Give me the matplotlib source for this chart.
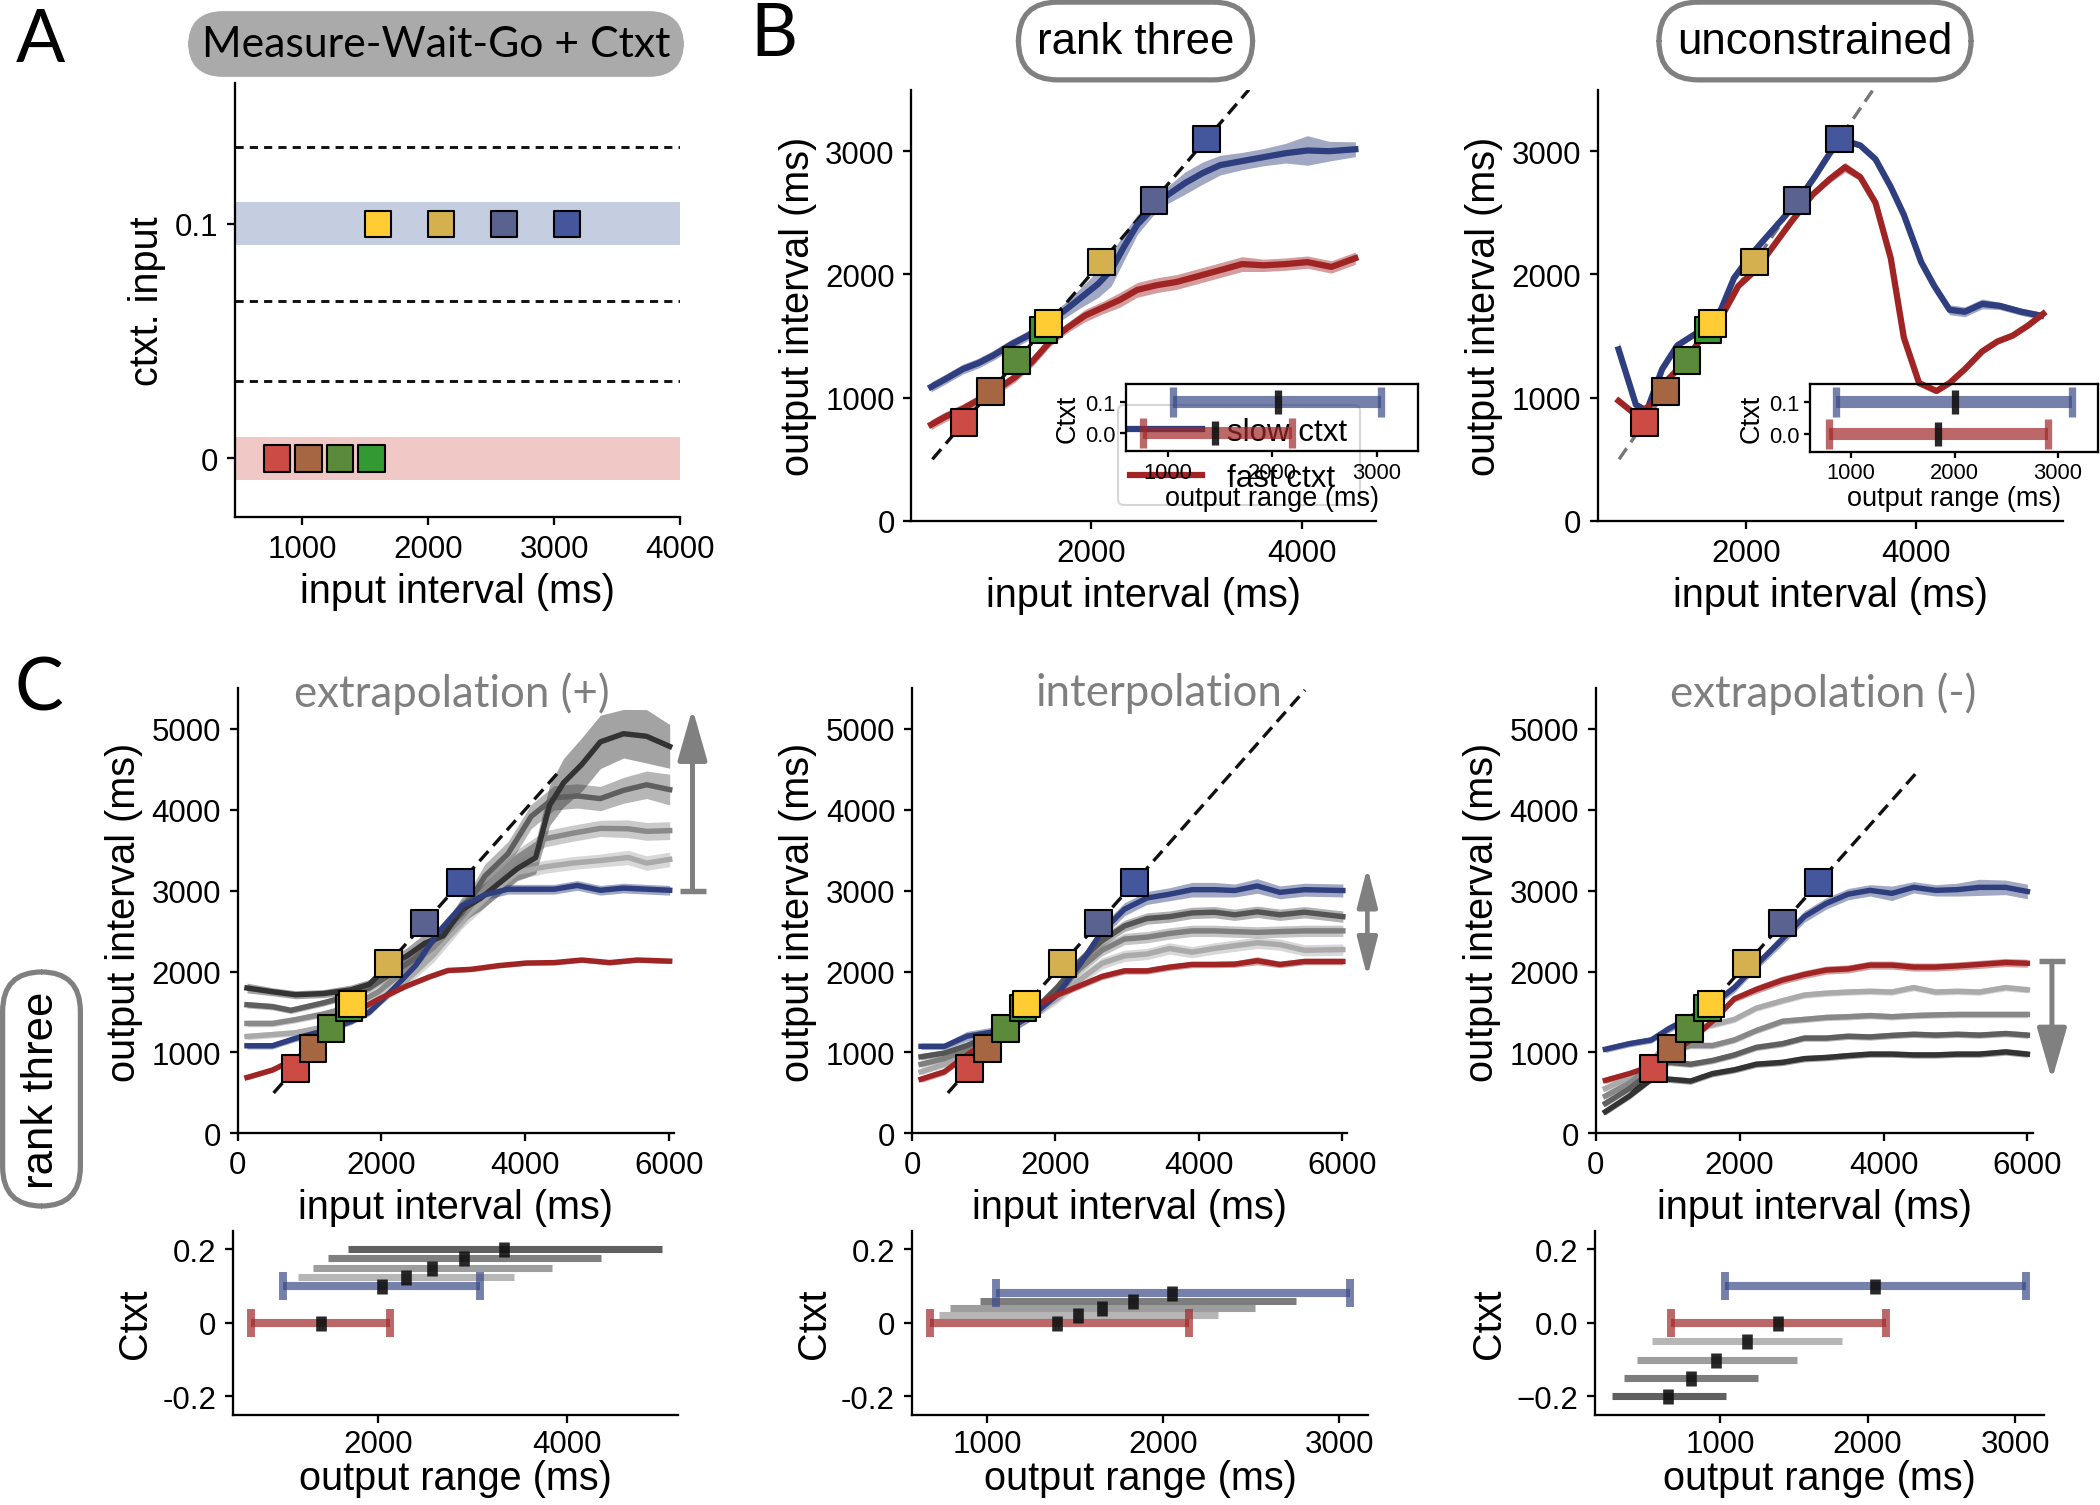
import matplotlib
matplotlib.use('Agg')
import matplotlib.pyplot as plt
import numpy as np

# ---------------------------------------------------------------- data
TARGETS = [800, 1050, 1300, 1550, 1600, 2100, 2600, 3100]
TARGET_COLORS = ['#CC4B45', '#A66642', '#5A8A3A', '#339933',
                 '#FFCC33', '#D4B04F', '#5A6390', '#44569C']
A_FAST_T = [800, 1050, 1300, 1550]
A_SLOW_T = [1600, 2100, 2600, 3100]
A_CTXT = [0.0, 0.1]
A_DASHED_CTXT = [0.133, 0.067, 0.033]

# Panel B, rank three
B1_X_SLOW = [488, 624, 789, 934, 1079, 1244, 1409, 1574, 1740, 1905, 2070, 2194, 2318,
             2442, 2587, 2731, 2897, 3062, 3227, 3434, 3640, 3847, 4054, 4260, 4508]
B1_Y_SLOW = [1087, 1151, 1232, 1280, 1344, 1431, 1505, 1601, 1698, 1810, 1923, 2035, 2228,
             2405, 2534, 2646, 2743, 2823, 2887, 2920, 2952, 2984, 3006, 3000, 3016]
B1_S_SLOW = [40, 40, 40, 40, 40, 40, 40, 50, 60, 80, 110, 130, 110,
             80, 60, 70, 90, 90, 80, 70, 70, 80, 120, 80, 60]
B1_X_FAST = [488, 624, 789, 955, 1120, 1285, 1450, 1616, 1781, 1946, 2112, 2277,
             2442, 2628, 2814, 3021, 3227, 3434, 3640, 3847, 4054, 4281, 4508]
B1_Y_FAST = [781, 846, 910, 990, 1071, 1167, 1296, 1457, 1569, 1666, 1730, 1794,
             1875, 1913, 1939, 1987, 2035, 2084, 2074, 2084, 2100, 2061, 2132]
B1_S_FAST = [40, 40, 40, 40, 40, 40, 40, 40, 40, 50, 50, 60,
             60, 60, 60, 60, 60, 60, 50, 50, 50, 50, 50]

# Panel B, unconstrained
B2_X_SLOW = [494, 699, 828, 1008, 1188, 1445, 1702, 1856, 2062, 2267, 2473, 2627, 2807, 2987,
             3116, 3347, 3527, 3707, 3861, 4067, 4221, 4401, 4581, 4787, 4992, 5249, 5481]
B2_Y_SLOW = [1392, 942, 894, 1231, 1424, 1537, 1713, 1970, 2163, 2324, 2485, 2613, 2790, 2983,
             3095, 3047, 2935, 2710, 2485, 2099, 1906, 1713, 1697, 1761, 1745, 1697, 1665]
B2_S_SLOW = [60, 30, 20, 20, 20, 20, 20, 20, 20, 20, 20, 20, 20, 20,
             20, 20, 20, 20, 20, 20, 30, 40, 40, 40, 30, 30, 30]
B2_X_FAST = [494, 699, 879, 1059, 1239, 1445, 1702, 1907, 2113, 2319, 2524, 2781, 2987, 3167,
             3347, 3527, 3707, 3861, 4041, 4247, 4401, 4581, 4787, 4967, 5147, 5327, 5507]
B2_Y_FAST = [974, 861, 942, 1135, 1263, 1456, 1649, 1906, 2035, 2228, 2420, 2645, 2774, 2870,
             2790, 2581, 2131, 1488, 1119, 1054, 1119, 1231, 1376, 1456, 1504, 1585, 1681]
B2_S_FAST = [20, 20, 20, 20, 20, 20, 20, 20, 20, 20, 20, 20, 30, 40,
             30, 20, 20, 20, 20, 20, 20, 20, 20, 20, 20, 20, 20]

# B insets: output range per context  [lo, median, hi]
B1_IN_SLOW = [1054, 2054, 3042]
B1_IN_FAST = [761, 1452, 2188]
B2_IN_SLOW = [853, 2000, 3134]
B2_IN_FAST = [781, 1843, 2910]

# Panel C1, extrapolation (+)
C1_X_SLOW = [129, 482, 804, 1190, 1576, 1833, 2154, 2476, 2797, 3119, 3441, 3762, 4084, 4405,
             4727, 5048, 5370, 5691, 6013]
C1_Y_SLOW = [1083, 1083, 1175, 1267, 1382, 1498, 1774, 2074, 2488, 2811, 2949, 3018, 3018, 3018,
             3065, 3005, 3032, 3018, 3005]
C1_S_SLOW = [40, 40, 40, 40, 40, 40, 50, 60, 70, 70, 60, 60, 60, 60, 60, 60, 60, 60, 60]
C1_X_FAST = [129, 482, 804, 1190, 1576, 1961, 2347, 2669, 2926, 3248, 3633, 4019, 4405, 4791,
             5177, 5563, 6013]
C1_Y_FAST = [691, 783, 922, 1152, 1475, 1659, 1820, 1935, 2014, 2028, 2074, 2106, 2111, 2143,
             2111, 2143, 2129]
C1_S_FAST = [30, 30, 30, 30, 30, 30, 30, 30, 30, 30, 30, 30, 30, 30, 30, 30, 30]
C1_X_G4 = [129, 482, 804, 1190, 1576, 1833, 2090, 2347, 2604, 2862, 3119, 3376, 3633, 3891,
           4148, 4341, 4534, 4791, 5048, 5370, 5691, 6013]
C1_Y_G4 = [1797, 1751, 1714, 1728, 1774, 1843, 2074, 2189, 2350, 2442, 2765, 2903, 3088, 3272,
           3410, 4055, 4332, 4562, 4839, 4940, 4908, 4783]
C1_S_G4 = [60, 50, 50, 50, 60, 60, 80, 100, 120, 120, 150, 150, 150, 150,
           200, 250, 300, 330, 330, 300, 330, 270]
C1_X_G3 = [129, 482, 740, 1190, 1576, 1833, 2154, 2476, 2797, 3119, 3441, 3762, 4084, 4405,
           4727, 5048, 5370, 5691, 6013]
C1_Y_G3 = [1590, 1567, 1521, 1613, 1705, 1797, 1982, 2166, 2442, 2719, 3180, 3456, 3917, 4147,
           4171, 4138, 4240, 4309, 4249]
C1_S_G3 = [40, 40, 40, 40, 40, 50, 60, 80, 100, 120, 150, 150, 150, 150, 150, 150, 160, 170, 190]
C1_X_G12 = [129, 482, 804, 1190, 1576, 1961, 2347, 2733, 3119, 3505, 3891, 4277, 4662, 5048,
            5434, 5691, 6013]
C1_Y_G2 = [1359, 1359, 1406, 1475, 1567, 1751, 2028, 2304, 2673, 3088, 3410, 3641, 3710, 3770,
           3765, 3733, 3742]
C1_S_G2 = [40, 40, 40, 40, 40, 60, 80, 100, 120, 120, 100, 100, 100, 100, 110, 110, 110]
C1_Y_G1 = [1198, 1221, 1244, 1313, 1429, 1636, 1889, 2212, 2627, 2949, 3226, 3295, 3341, 3373,
           3410, 3341, 3387]
C1_S_G1 = [40, 40, 40, 40, 40, 60, 70, 90, 100, 100, 90, 80, 80, 80, 90, 90, 90]

# Panel C2, interpolation
C2_X = [126, 452, 766, 1080, 1394, 1707, 2021, 2335, 2649, 2963, 3277, 3591, 3905, 4218,
        4500, 4815, 5130, 5474, 6008]
C2_Y_SLOW = [1076, 1076, 1201, 1247, 1316, 1478, 1709, 2079, 2494, 2771, 2910, 2956, 3012, 3012,
             3002, 3058, 2979, 3012, 3002]
C2_S_SLOW = [40, 40, 60, 60, 60, 60, 60, 70, 80, 80, 80, 80, 90, 90, 80, 90, 80, 80, 80]
C2_Y_FAST = [670, 762, 970, 1155, 1339, 1570, 1709, 1824, 1940, 2009, 2009, 2055, 2088, 2088,
             2092, 2134, 2088, 2125, 2125]
C2_S_FAST = [40, 40, 40, 40, 40, 40, 40, 40, 40, 40, 40, 40, 40, 40, 40, 50, 40, 40, 40]
C2_Y_G3 = [947, 993, 1085, 1201, 1339, 1524, 1801, 2125, 2379, 2564, 2656, 2679, 2725, 2734,
           2702, 2739, 2702, 2734, 2679]
C2_Y_G2 = [855, 924, 1039, 1178, 1316, 1501, 1732, 2032, 2263, 2402, 2425, 2471, 2503, 2503,
           2494, 2485, 2494, 2503, 2503]
C2_Y_G1 = [762, 855, 993, 1132, 1293, 1478, 1663, 1894, 2102, 2194, 2217, 2286, 2240, 2286,
           2319, 2356, 2333, 2263, 2272]
C2_S_G = [40, 40, 50, 50, 50, 60, 60, 70, 70, 70, 70, 70, 70, 70, 70, 70, 70, 70, 70]

# Panel C3, extrapolation (-)
C3_X = [134, 468, 772, 1015, 1319, 1623, 1927, 2231, 2596, 2900, 3204, 3508, 3812, 4116,
        4419, 4723, 5027, 5331, 5696, 5999]
C3_Y_SLOW = [1040, 1109, 1155, 1294, 1433, 1594, 1802, 2080, 2403, 2680, 2842, 2957, 3004, 2967,
             3041, 3004, 3013, 3041, 3041, 2990]
C3_S_SLOW = [40, 40, 40, 50, 50, 50, 60, 60, 70, 70, 70, 70, 70, 90, 70, 70, 80, 100, 90, 90]
C3_Y_FAST = [656, 739, 832, 947, 1155, 1386, 1664, 1779, 1895, 1964, 2019, 2033, 2080, 2080,
             2056, 2056, 2070, 2089, 2112, 2103]
C3_S_FAST = [40, 40, 40, 40, 40, 40, 40, 50, 50, 50, 50, 50, 50, 50, 50, 50, 50, 50, 50, 50]
C3_Y_G1 = [555, 693, 878, 1155, 1294, 1340, 1409, 1548, 1640, 1710, 1733, 1747, 1756, 1747,
           1802, 1747, 1756, 1747, 1802, 1775]
C3_Y_G2 = [462, 624, 832, 1017, 1086, 1086, 1155, 1271, 1386, 1409, 1433, 1442, 1456, 1442,
           1456, 1465, 1470, 1470, 1470, 1470]
C3_Y_G3 = [370, 555, 762, 878, 855, 901, 970, 1063, 1109, 1178, 1178, 1201, 1192, 1211,
           1225, 1215, 1225, 1215, 1234, 1215]
C3_Y_G4 = [268, 462, 670, 670, 647, 739, 786, 855, 878, 924, 938, 961, 980, 980,
           970, 970, 980, 980, 1007, 980]
C3_S_G = [40, 40, 40, 40, 40, 40, 40, 40, 40, 40, 40, 40, 40, 40, 40, 40, 40, 40, 40, 40]

# Bottom row: output range per context (lo, median, hi)
D1_CTXT = [0.0, 0.1, 0.125, 0.15, 0.175, 0.2]
D1_LO = [652, 985, 1142, 1304, 1466, 1676]
D1_MED = [1387, 2039, 2289, 2574, 2907, 3338]
D1_HI = [2123, 3078, 3436, 3848, 4363, 5010]
D2_CTXT = [0.0, 0.08, 0.02, 0.04, 0.06]
D2_LO = [674, 1050, 730, 790, 960]
D2_MED = [1396, 2049, 1518, 1655, 1831]
D2_HI = [2146, 3059, 2310, 2520, 2755]
D3_CTXT = [0.0, 0.1, -0.05, -0.1, -0.15, -0.2]
D3_LO = [667, 1035, 540, 437, 351, 268]
D3_MED = [1395, 2053, 1183, 976, 802, 652]
D3_HI = [2121, 3071, 1826, 1522, 1260, 1041]

D1_YTICKLABELS = ['-0.2', '0', '0.2']
D2_YTICKLABELS = ['-0.2', '0', '0.2']
D3_YTICKLABELS = ['\u22120.2', '0.0', '0.2']

# ---------------------------------------------------------------- style
plt.rcParams['font.family'] = ['Liberation Sans', 'DejaVu Sans']
plt.rcParams['axes.linewidth'] = 1.1
plt.rcParams['xtick.major.width'] = 1.1
plt.rcParams['ytick.major.width'] = 1.1
plt.rcParams['xtick.major.size'] = 4
plt.rcParams['ytick.major.size'] = 4
plt.rcParams['xtick.labelsize'] = 15
plt.rcParams['ytick.labelsize'] = 15
plt.rcParams['axes.labelsize'] = 19
plt.rcParams['xtick.major.pad'] = 4
plt.rcParams['ytick.major.pad'] = 4

SLOW = '#2E3E7E'
FAST = '#A02424'
SLOW_BAR = '#3B4A88'
FAST_BAR = '#A02828'
ARROW_GREY = '#808080'
TITLE_FONT = ['Lato', 'DejaVu Sans']

W, H = 2100, 1506
fig = plt.figure(figsize=(14, 10.04), dpi=150)


def rect(l, t, r, b):
    return [l / W, 1 - b / H, (r - l) / W, (b - t) / H]


def fx(x):
    return x / W


def fy(y):
    return 1 - y / H


def despine(ax):
    ax.spines['top'].set_visible(False)
    ax.spines['right'].set_visible(False)


def curve(ax, x, y, s, color, lw, label=None, alpha=0.45):
    x = np.asarray(x, float)
    y = np.asarray(y, float)
    s = np.asarray(s, float)
    ax.fill_between(x, y - s, y + s, color=color, alpha=alpha, lw=0)
    ax.plot(x, y, color=color, lw=lw, label=label, solid_joinstyle='round')


def squares(ax, xs, ys, colors, zorder=5):
    ax.scatter(xs, ys, marker='s', s=12.8 ** 2, c=colors, edgecolors='k',
               linewidths=1.0, zorder=zorder)


def range_bar(ax, y, lo, med, hi, color, lw, caps, capsize, capthick,
              med_ms, med_mew, alpha=0.7):
    c = (lo + hi) / 2.0
    if caps:
        ax.errorbar(c, y, xerr=(hi - lo) / 2.0, fmt='none', ecolor=color,
                    elinewidth=lw, capsize=capsize, capthick=capthick, alpha=alpha)
    else:
        ax.plot([lo, hi], [y, y], color=color, lw=lw, alpha=alpha,
                solid_capstyle='butt')
    ax.plot([med], [y], marker='|', ms=med_ms, mew=med_mew, color='#111111',
            alpha=0.9, ls='none', zorder=6)


# ---------------------------------------------------------------- panel A
axA = fig.add_axes(rect(234.5, 84.3, 680.3, 517.9))
despine(axA)
axA.axhspan(0.1 - 0.0092, 0.1 + 0.0092, color='#C5CDE0', lw=0, zorder=0)
axA.axhspan(-0.0092, 0.0092, color='#F0C8C6', lw=0, zorder=0)
for yv in A_DASHED_CTXT:
    axA.axhline(yv, color='#111111', lw=1.4, dashes=(2.8, 2.1), zorder=1)
squares(axA, A_FAST_T, [A_CTXT[0]] * len(A_FAST_T), TARGET_COLORS[:4])
squares(axA, A_SLOW_T, [A_CTXT[1]] * len(A_SLOW_T), TARGET_COLORS[4:])
axA.set_xlim(462, 4000)
axA.set_ylim(-0.025, 0.16)
axA.set_xticks([1000, 2000, 3000, 4000])
axA.set_yticks([0, 0.1])
axA.set_yticklabels(['0', '0.1'])
axA.set_xlabel('input interval (ms)')
axA.set_ylabel('ctxt. input')

# ---------------------------------------------------------------- panel B
def panel_b(rect_main, xs, ys, ss, xf, yf, sf, xlim, dash_color, inset_rect,
            in_slow, in_fast, legend):
    ax = fig.add_axes(rect_main)
    despine(ax)
    ax.plot([500, 3500], [500, 3500], color=dash_color, lw=1.6, dashes=(4, 2.2), zorder=2)
    curve(ax, xs, ys, ss, SLOW, 3.0, label='slow ctxt')
    curve(ax, xf, yf, sf, FAST, 3.0, label='fast ctxt')
    squares(ax, TARGETS, TARGETS, TARGET_COLORS)
    ax.set_xlim(*xlim)
    ax.set_ylim(0, 3500)
    ax.set_xticks([2000, 4000])
    ax.set_yticks([0, 1000, 2000, 3000])
    ax.set_xlabel('input interval (ms)')
    ax.set_ylabel('output interval (ms)')
    if legend:
        ax.legend(loc='lower right', fontsize=15, handlelength=2.3, borderaxespad=0.5)
    ins = fig.add_axes(inset_rect)
    ins.set_zorder(3)
    ins.set_facecolor('none')
    range_bar(ins, 0.1, in_slow[0], in_slow[1], in_slow[2], SLOW_BAR, 5.8, True, 7.2, 3.5, 11.5, 3.5)
    range_bar(ins, 0.0, in_fast[0], in_fast[1], in_fast[2], FAST_BAR, 5.8, True, 7.2, 3.5, 11.5, 3.5)
    ins.set_xlim(600, 3390)
    ins.set_ylim(-0.058, 0.16)
    ins.set_xticks([1000, 2000, 3000])
    ins.set_yticks([0.0, 0.1])
    ins.set_yticklabels(['0.0', '0.1'])
    ins.tick_params(labelsize=10.5, length=3, pad=2)
    ins.set_xlabel('output range (ms)', fontsize=13, labelpad=1)
    ins.set_ylabel('Ctxt', fontsize=13, labelpad=2)
    for sp in ins.spines.values():
        sp.set_linewidth(1.1)
    return ax


panel_b(rect(911.3, 90.6, 1375.6, 521.9), B1_X_SLOW, B1_Y_SLOW, B1_S_SLOW,
        B1_X_FAST, B1_Y_FAST, B1_S_FAST, (300, 4700), '#111111',
        rect(1125.8, 384.7, 1417.9, 452.3), B1_IN_SLOW, B1_IN_FAST, True)
panel_b(rect(1597.9, 90.6, 2063, 521.9), B2_X_SLOW, B2_Y_SLOW, B2_S_SLOW,
        B2_X_FAST, B2_Y_FAST, B2_S_FAST, (250, 5740), '#777777',
        rect(1810, 384.7, 2098, 453), B2_IN_SLOW, B2_IN_FAST, False)

# ---------------------------------------------------------------- panel C
def panel_c(rect_main, title, title_x):
    ax = fig.add_axes(rect_main)
    despine(ax)
    ax.set_xlim(0, 6070)
    ax.set_ylim(0, 5500)
    ax.set_xticks([0, 2000, 4000, 6000])
    ax.set_yticks([0, 1000, 2000, 3000, 4000, 5000])
    ax.set_xlabel('input interval (ms)')
    ax.set_ylabel('output interval (ms)')
    fig.text(fx(title_x), fy(694), title, ha='center', va='center', fontsize=21,
             color='#7F7F7F', family=TITLE_FONT)
    return ax


axC1 = panel_c(rect(237.7, 689.4, 673.8, 1134.4), 'extrapolation (+)', 452)
axC1.plot([500, 4500], [500, 4500], color='#111111', lw=1.6, dashes=(4, 2.2), zorder=2)
curve(axC1, C1_X_G12, C1_Y_G1, C1_S_G1, '#AAAAAA', 2.6)
curve(axC1, C1_X_G12, C1_Y_G2, C1_S_G2, '#8A8A8A', 2.6)
curve(axC1, C1_X_G3, C1_Y_G3, C1_S_G3, '#5F5F5F', 2.6)
curve(axC1, C1_X_G4, C1_Y_G4, C1_S_G4, '#333333', 2.6)
curve(axC1, C1_X_SLOW, C1_Y_SLOW, C1_S_SLOW, SLOW, 2.6)
curve(axC1, C1_X_FAST, C1_Y_FAST, C1_S_FAST, FAST, 2.6)
squares(axC1, TARGETS, TARGETS, TARGET_COLORS)
axC1.plot([6150, 6520], [3000, 3000], color=ARROW_GREY, lw=2.6, clip_on=False,
          solid_capstyle='butt')
axC1.annotate('', xy=(6330, 5250), xytext=(6330, 3000), annotation_clip=False,
              arrowprops=dict(arrowstyle='-|>,head_length=1.4,head_width=0.4',
                              mutation_scale=15, color=ARROW_GREY, lw=2.4,
                              shrinkA=0, shrinkB=0))

axC2 = panel_c(rect(912, 689.4, 1347.3, 1134.4), 'interpolation', 1158.8)
axC2.plot([500, 5480], [500, 5480], color='#111111', lw=1.6, dashes=(4, 2.2), zorder=2)
curve(axC2, C2_X, C2_Y_G1, C2_S_G, '#AAAAAA', 2.6)
curve(axC2, C2_X, C2_Y_G2, C2_S_G, '#7F7F7F', 2.6)
curve(axC2, C2_X, C2_Y_G3, C2_S_G, '#555555', 2.6)
curve(axC2, C2_X, C2_Y_SLOW, C2_S_SLOW, SLOW, 2.6)
curve(axC2, C2_X, C2_Y_FAST, C2_S_FAST, FAST, 2.6)
squares(axC2, TARGETS, TARGETS, TARGET_COLORS)
axC2.annotate('', xy=(6350, 3290), xytext=(6350, 1930), annotation_clip=False,
              arrowprops=dict(arrowstyle='<|-|>,head_length=1.05,head_width=0.27',
                              mutation_scale=15, color=ARROW_GREY, lw=2.2,
                              shrinkA=0, shrinkB=0))

axC3 = panel_c(rect(1595.7, 689.4, 2032.5, 1134.4), 'extrapolation (-)', 1823)
axC3.plot([500, 4500], [500, 4500], color='#111111', lw=1.6, dashes=(4, 2.2), zorder=2)
curve(axC3, C3_X, C3_Y_G1, C3_S_G, '#AAAAAA', 2.6)
curve(axC3, C3_X, C3_Y_G2, C3_S_G, '#888888', 2.6)
curve(axC3, C3_X, C3_Y_G3, C3_S_G, '#5F5F5F', 2.6)
curve(axC3, C3_X, C3_Y_G4, C3_S_G, '#333333', 2.6)
curve(axC3, C3_X, C3_Y_SLOW, C3_S_SLOW, SLOW, 2.6)
curve(axC3, C3_X, C3_Y_FAST, C3_S_FAST, FAST, 2.6)
squares(axC3, TARGETS, TARGETS, TARGET_COLORS)
axC3.plot([6155, 6520], [2127, 2127], color=ARROW_GREY, lw=2.6, clip_on=False,
          solid_capstyle='butt')
axC3.annotate('', xy=(6340, 660), xytext=(6340, 2127), annotation_clip=False,
              arrowprops=dict(arrowstyle='-|>,head_length=1.4,head_width=0.4',
                              mutation_scale=15, color=ARROW_GREY, lw=2.4,
                              shrinkA=0, shrinkB=0))

# ---------------------------------------------------------------- bottom row
def panel_d(rect_main, ctxt, lo, med, hi, grey_colors, xlim, xticks, yticklabels):
    ax = fig.add_axes(rect_main)
    despine(ax)
    for i in range(2, len(ctxt)):
        range_bar(ax, ctxt[i], lo[i], med[i], hi[i], grey_colors[i - 2], 3.4, False,
                  0, 0, 7.2, 5.1, alpha=0.85)
    range_bar(ax, ctxt[0], lo[0], med[0], hi[0], FAST_BAR, 3.9, True, 6.7, 3.8, 7.2, 5.1)
    range_bar(ax, ctxt[1], lo[1], med[1], hi[1], SLOW_BAR, 3.9, True, 6.7, 3.8, 7.2, 5.1)
    ax.set_xlim(*xlim)
    ax.set_ylim(-0.25, 0.25)
    ax.set_xticks(xticks)
    ax.set_yticks([-0.2, 0, 0.2])
    ax.set_yticklabels(yticklabels)
    ax.tick_params(axis='x', pad=3)
    ax.set_xlabel('output range (ms)', labelpad=0)
    ax.set_ylabel('Ctxt')
    return ax


panel_d(rect(233, 1231.7, 678.4, 1415.7), D1_CTXT, D1_LO, D1_MED, D1_HI,
        ['#AAAAAA', '#8C8C8C', '#6A6A6A', '#444444'], (457, 5186), [2000, 4000],
        D1_YTICKLABELS)
panel_d(rect(911.6, 1231.7, 1368.4, 1415.7), D2_CTXT, D2_LO, D2_MED, D2_HI,
        ['#AAAAAA', '#8C8C8C', '#666666'], (572, 3166), [1000, 2000, 3000],
        D2_YTICKLABELS)
panel_d(rect(1595.2, 1231.7, 2044.2, 1415.7), D3_CTXT, D3_LO, D3_MED, D3_HI,
        ['#AAAAAA', '#8C8C8C', '#666666', '#444444'], (156, 3195), [1000, 2000, 3000],
        D3_YTICKLABELS)

# ---------------------------------------------------------------- labels & boxes
for letter, (x, y) in zip(['A', 'B', 'C'], [(40.5, 42), (774, 36), (39, 690)]):
    fig.text(fx(x), fy(y), letter, ha='center', va='center', fontsize=35,
             family=TITLE_FONT)

fig.text(fx(436), fy(45), 'Measure-Wait-Go + Ctxt', ha='center', va='center',
         fontsize=20.5, family=TITLE_FONT,
         bbox=dict(boxstyle='round,pad=0.3,rounding_size=0.8', fc='#AAAAAA',
                   ec='#AAAAAA', lw=1))
for txt, x in [('rank three', 1135.5), ('unconstrained', 1815)]:
    fig.text(fx(x), fy(42), txt, ha='center', va='center', fontsize=21,
             bbox=dict(boxstyle='round,pad=0.42,rounding_size=0.9', fc='white',
                       ec='#808080', lw=2.5))
fig.text(fx(41.5), fy(1090), 'rank three', ha='center', va='center', fontsize=21,
         rotation=90,
         bbox=dict(boxstyle='round,pad=0.42,rounding_size=0.9', fc='white',
                   ec='#808080', lw=2.5))

fig.savefig('out.png', dpi=150)
